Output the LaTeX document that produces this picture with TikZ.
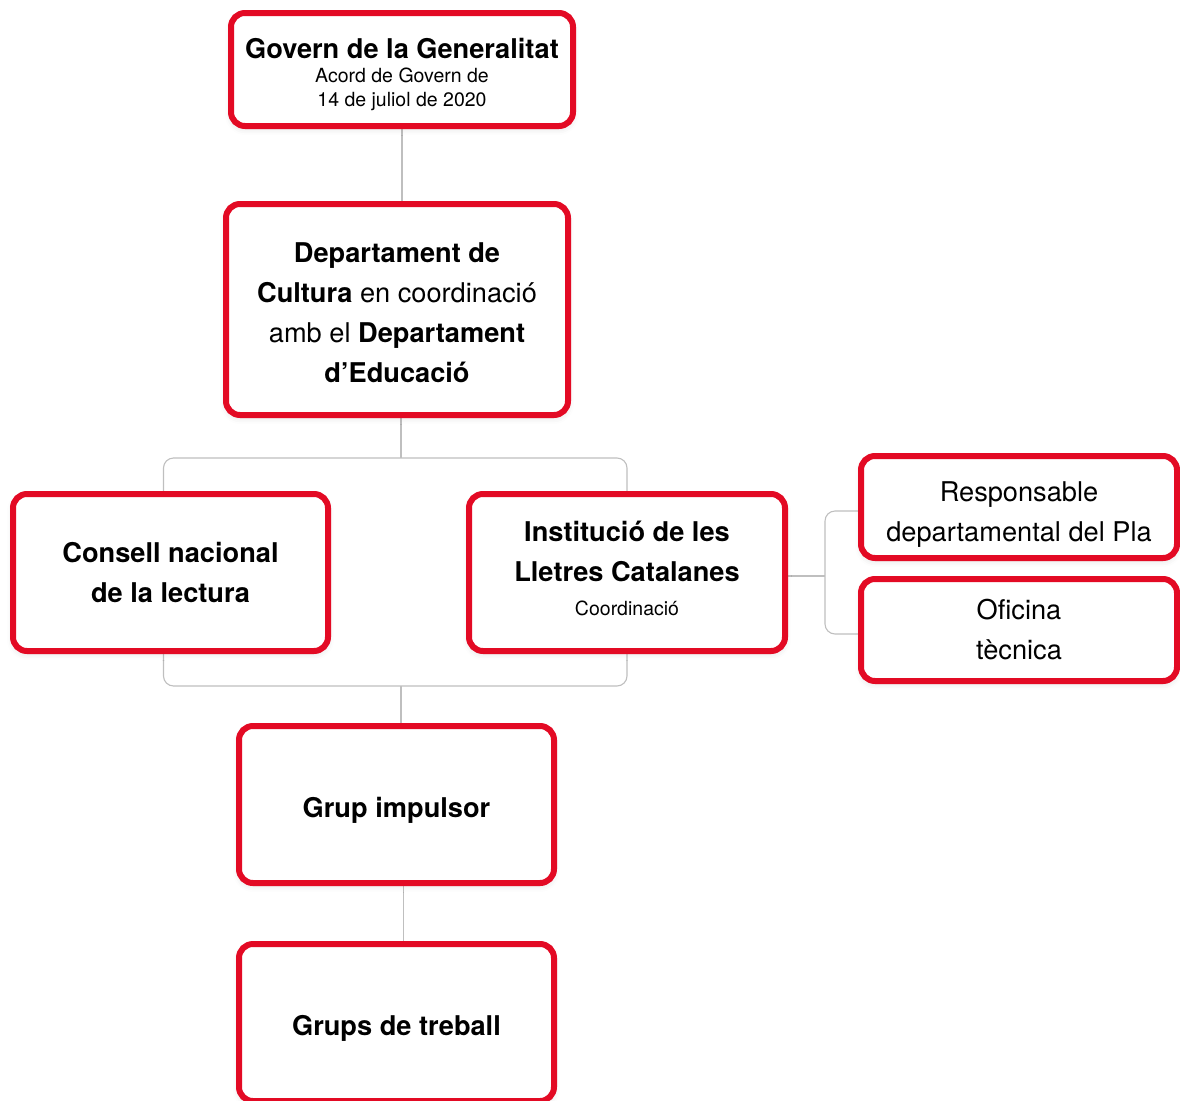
\documentclass[tikz,border=0pt]{standalone}
\usepackage{fontspec}
\setmainfont{TeX Gyre Heros}
\usetikzlibrary{backgrounds,shadows.blur}
\definecolor{plared}{HTML}{E30A24}
\newcommand{\lift}[1]{\rule{0pt}{#1}}
\tikzset{
    org box/.style = {
        draw = plared,
        line width = 6pt,
        rounded corners = 14pt,
        fill = white,
        align = center,
        inner sep = 0pt,
        font = \fontsize{27.2}{40}\selectfont,
        blur shadow = {shadow xshift=0pt, shadow yshift=-3pt, shadow opacity=12, shadow blur radius=6pt},
        },
    big box/.style = {
        org box,
        minimum width = 315pt,
        minimum height = 157pt,
        },
    side box/.style = {
        org box,
        minimum width = 316pt,
        minimum height = 102pt,
        },
    link/.style = {
        draw = gray!50,
        line width = 1.1pt,
        rounded corners = 10pt,
        },
}

\begin{document}
\begin{tikzpicture}[x=1pt, y=-1pt]
            \useasboundingbox (0,0) rectangle (1180,1100);

            \node[org box, minimum width=342pt, minimum height=113pt] (govern) at (402,69.5)
                {\lift{31pt}\textbf{Govern de la Generalitat}\\[-16pt]
                 {\fontsize{19.5}{24}\selectfont Acord de Govern de}\\[-16pt]
                 {\fontsize{19.5}{24}\selectfont 14 de juliol de 2020}};
            \node[org box, minimum width=342pt, minimum height=211pt] (dept) at (397,309.5)
                {\lift{26pt}\textbf{Departament de}\\ \textbf{Cultura} en coordinació\\
                 amb el \textbf{Departament}\\ \textbf{d’Educació}};
            \node[big box] (consell) at (170.5,572.5)
                {\textbf{Consell nacional}\\ \textbf{de la lectura}};
            \node[big box, minimum width=316pt] (inst) at (627,572.5)
                {\textbf{Institució de les}\\ \textbf{Lletres Catalanes}\\[-6pt]
                 {\fontsize{19.5}{24}\selectfont Coordinació}\rule[-8pt]{0pt}{8pt}};
            \node[side box] (resp) at (1019,507)
                {\lift{34pt}Responsable\\ departamental del Pla};
            \node[side box] (oficina) at (1019,630)
                {Oficina\\ tècnica};
            \node[big box] (grup) at (396.5,804.5) {\lift{32pt}\textbf{Grup impulsor}};
            \node[big box] (grups) at (396.5,1022.5) {\lift{32pt}\textbf{Grups de treball}};

            \coordinate (topbar) at (401,458);
            \coordinate (botbar) at (401,686);
            \coordinate (sidebar) at (825,576);

            \begin{scope}[on background layer]
                \draw[link] (govern.south) -- (govern.south |- dept.north);
                \draw[link] (dept.south -| topbar) -- (topbar);
                \draw[link] ([xshift=-7pt]consell.north) |- (topbar) -| (inst.north);
                \draw[link] ([xshift=-7pt]consell.south) |- (botbar) -| (inst.south);
                \draw[link] (botbar) -- (botbar |- grup.north);
                \draw[link] ([xshift=7pt]grup.south) -- ([xshift=7pt]grups.north);
                \draw[link] (inst.east |- sidebar) -- (sidebar);
                \draw[link] ([yshift=-4pt]resp.west) -| (sidebar) |- ([yshift=-4pt]oficina.west);
            \end{scope}
        \end{tikzpicture}
\end{document}
